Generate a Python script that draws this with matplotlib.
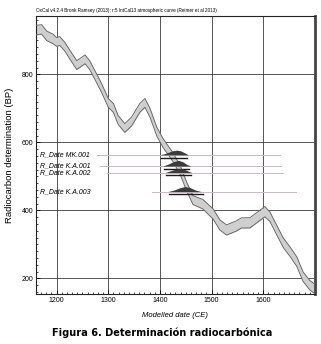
import matplotlib
matplotlib.use("Agg")
import matplotlib.pyplot as plt
import numpy as np
from matplotlib.ticker import MultipleLocator

# Calibration curve (IntCal13)
cal_years = [1160, 1171, 1181, 1193, 1200, 1206, 1216, 1226, 1239, 1255, 1264, 1274, 1287,
             1300, 1310, 1319, 1332, 1345, 1361, 1371, 1381, 1394, 1406, 1425, 1439, 1452,
             1464, 1483, 1503, 1516, 1529, 1548, 1558, 1574, 1590, 1603, 1613, 1626, 1639,
             1652, 1665, 1677, 1690, 1702]
cal_bp = [930, 932, 913, 904, 895, 898, 881, 857, 827, 844, 827, 798, 760,
          716, 701, 666, 642, 661, 701, 716, 686, 631, 598, 557, 519, 469,
          430, 418, 389, 357, 342, 354, 363, 363, 381, 396, 381, 342, 304,
          278, 249, 205, 180, 166]
cal_err = [14, 14, 14, 14, 13, 13, 13, 13, 13, 13, 13, 13, 13,
           13, 13, 13, 13, 13, 13, 13, 13, 13, 13, 13, 13, 13,
           13, 14, 15, 15, 15, 15, 15, 15, 15, 15, 14, 14, 14,
           14, 14, 14, 14, 14]

# Radiocarbon determinations
date_names = ["R_Date MK.001", "R_Date K.A.001", "R_Date K.A.002", "R_Date K.A.003"]
date_bp = [563, 530, 511, 455]
line_start = [1278, 1284, 1297, 1384]
line_end = [1633, 1635, 1638, 1663]

# Calibrated distributions (year, relative height in BP units)
dist_years = [
    [1400, 1412, 1422, 1432, 1440, 1448, 1455],
    [1405, 1416, 1426, 1436, 1444, 1452, 1460],
    [1410, 1420, 1430, 1440, 1448, 1455, 1462],
    [1415, 1428, 1438, 1448, 1458, 1468, 1480],
]
dist_heights = [
    [0, 5, 11, 14, 12, 6, 0],
    [0, 6, 13, 17, 13, 5, 0],
    [0, 5, 10, 12, 9, 4, 0],
    [0, 5, 11, 15, 12, 5, 0],
]
range_start = [1402, 1407, 1412, 1418]
range_end = [1452, 1457, 1460, 1483]

fig = plt.figure(figsize=(3.21, 3.44), dpi=100)
ax = fig.add_axes([0.112, 0.1445, 0.869, 0.8095])

xmin, xmax = 1160, 1700
ymin, ymax = 153, 972
ax.set_xlim(xmin, xmax)
ax.set_ylim(ymin, ymax)

# grid
for gx in [1200, 1300, 1400, 1500, 1600]:
    ax.axvline(gx, color="#3a3a3a", lw=0.6, zorder=1)
for gy in [200, 400, 600, 800]:
    ax.axhline(gy, color="#3a3a3a", lw=0.6, zorder=1)

# calibration curve band
cy = np.array(cal_years)
cb = np.array(cal_bp)
ce = np.array(cal_err)
ax.fill_between(cy, cb - ce, cb + ce, color="#cfcfcf", zorder=2, lw=0)
ax.plot(cy, cb + ce, color="#6a6a6a", lw=0.7, zorder=3)
ax.plot(cy, cb - ce, color="#6a6a6a", lw=0.7, zorder=3)

# determinations
for i, name in enumerate(date_names):
    ax.text(1167, date_bp[i], name, fontsize=5, style="italic",
            family=["Liberation Sans", "DejaVu Sans"], va="center", ha="left", zorder=5)
    ax.plot([line_start[i], line_end[i]], [date_bp[i], date_bp[i]],
            color="#c9b9c6", lw=0.7, zorder=3)
    dy = np.array(dist_years[i])
    dh = np.array(dist_heights[i])
    ax.fill_between(dy, date_bp[i], date_bp[i] + dh, color="#3c3c3c", zorder=4, lw=0)
    ax.plot([range_start[i], range_end[i]], [date_bp[i] - 8, date_bp[i] - 8],
            color="#1a1a1a", lw=1.0, zorder=4)

ax.set_xticks([1200, 1300, 1400, 1500, 1600])
ax.set_yticks([200, 400, 600, 800])
ax.xaxis.set_minor_locator(MultipleLocator(10))
ax.yaxis.set_minor_locator(MultipleLocator(20))
ax.tick_params(which="major", direction="in", length=3, width=0.6, labelsize=5,
               pad=2, top=False, right=False)
ax.tick_params(which="minor", direction="in", length=1.5, width=0.5, top=False, right=False)
for lab in ax.get_xticklabels() + ax.get_yticklabels():
    lab.set_family(["Liberation Sans", "DejaVu Sans"])

for s in ["left", "bottom", "top"]:
    ax.spines[s].set_linewidth(0.8)
    ax.spines[s].set_color("#222222")
ax.spines["right"].set_linewidth(2.0)
ax.spines["right"].set_color("#444444")

ax.set_ylabel("Radiocarbon determination (BP)", fontsize=6.8,
              family=["Liberation Sans", "DejaVu Sans"], labelpad=5)
ax.set_xlabel("Modelled date (CE)", fontsize=5.5, style="italic",
              family=["Liberation Sans", "DejaVu Sans"], labelpad=6)

fig.text(0.112, 0.962, "OxCal v4.2.4 Bronk Ramsey (2013); r:5 IntCal13 atmospheric curve (Reimer et al 2013)",
         fontsize=3.3, family=["Liberation Sans", "DejaVu Sans"], ha="left", va="bottom")

fig.text(0.505, 0.032, "Figura 6. Determinación radiocarbónica", fontsize=7.8, weight="bold",
         family=["DejaVu Sans"], stretch="condensed", ha="center", va="center")

fig.savefig("out.png", dpi=100)
